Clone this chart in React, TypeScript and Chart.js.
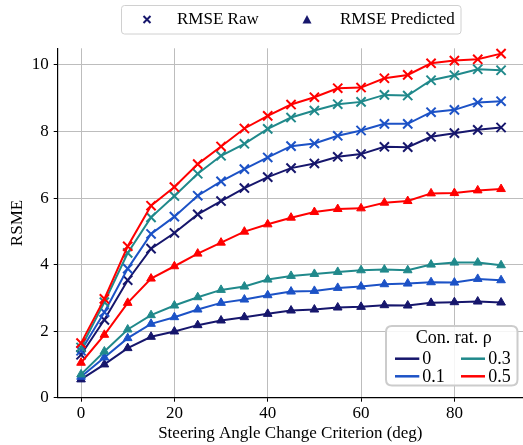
import React, { useEffect, useRef } from 'react';
import { Chart, registerables } from 'chart.js';

Chart.register(...registerables);

const criterion = [0, 5, 10, 15, 20, 25, 30, 35, 40, 45, 50, 55, 60, 65, 70, 75, 80, 85, 90];
const xTicks = [0, 20, 40, 60, 80];
const yTicks = [0, 2, 4, 6, 8, 10];
const rhoLabels = ['0', '0.1', '0.3', '0.5'];
const rhoColors = ['#16166c', '#1c52c6', '#20898b', '#ff0000'];

const rawRho0 = [1.29, 2.34, 3.53, 4.48, 4.95, 5.51, 5.91, 6.30, 6.63, 6.90, 7.04, 7.24, 7.32, 7.54, 7.53, 7.84, 7.95, 8.05, 8.12];
const rawRho1 = [1.41, 2.57, 3.88, 4.92, 5.44, 6.07, 6.50, 6.87, 7.22, 7.56, 7.64, 7.87, 8.03, 8.23, 8.23, 8.58, 8.65, 8.87, 8.91];
const rawRho3 = [1.51, 2.87, 4.35, 5.42, 6.06, 6.73, 7.27, 7.63, 8.08, 8.42, 8.63, 8.82, 8.89, 9.10, 9.08, 9.54, 9.69, 9.87, 9.84];
const rawRho5 = [1.64, 2.97, 4.55, 5.77, 6.33, 7.02, 7.55, 8.09, 8.47, 8.81, 9.03, 9.30, 9.32, 9.60, 9.70, 10.05, 10.13, 10.17, 10.34];

const predRho0 = [0.55, 1.00, 1.49, 1.83, 1.99, 2.18, 2.32, 2.42, 2.52, 2.62, 2.65, 2.71, 2.73, 2.78, 2.77, 2.85, 2.87, 2.89, 2.86];
const predRho1 = [0.63, 1.21, 1.79, 2.22, 2.42, 2.65, 2.85, 2.95, 3.08, 3.19, 3.21, 3.30, 3.34, 3.41, 3.43, 3.47, 3.46, 3.57, 3.53];
const predRho3 = [0.70, 1.39, 2.05, 2.48, 2.77, 3.02, 3.24, 3.34, 3.55, 3.66, 3.72, 3.78, 3.83, 3.85, 3.83, 4.00, 4.06, 4.06, 3.98];
const predRho5 = [1.05, 1.89, 2.85, 3.58, 3.95, 4.33, 4.66, 4.99, 5.21, 5.41, 5.58, 5.67, 5.69, 5.86, 5.91, 6.14, 6.15, 6.23, 6.27];

const rawSeries = [rawRho0, rawRho1, rawRho3, rawRho5];
const predSeries = [predRho0, predRho1, predRho3, predRho5];

const FONT = '"Liberation Serif", "DejaVu Serif", Times, serif';
const W = 523;
const H = 445;

function roundRect(ctx: CanvasRenderingContext2D, x: number, y: number, w: number, h: number, r: number) {
  ctx.beginPath();
  ctx.moveTo(x + r, y);
  ctx.lineTo(x + w - r, y);
  ctx.quadraticCurveTo(x + w, y, x + w, y + r);
  ctx.lineTo(x + w, y + h - r);
  ctx.quadraticCurveTo(x + w, y + h, x + w - r, y + h);
  ctx.lineTo(x + r, y + h);
  ctx.quadraticCurveTo(x, y + h, x, y + h - r);
  ctx.lineTo(x, y + r);
  ctx.quadraticCurveTo(x, y, x + r, y);
  ctx.closePath();
}

const legendPlugin = {
  id: 'customLegends',
  afterDraw(chart: any) {
    const ctx: CanvasRenderingContext2D = chart.ctx;
    ctx.save();
    // Top marker legend
    roundRect(ctx, 121.5, 5.5, 339.5, 28.5, 3);
    ctx.fillStyle = 'rgba(255,255,255,0.9)';
    ctx.fill();
    ctx.strokeStyle = '#d0d0d0';
    ctx.lineWidth = 1;
    ctx.stroke();

    const navy = rhoColors[0];
    const cy = 19.5;
    // cross marker
    ctx.strokeStyle = navy;
    ctx.lineWidth = 2;
    ctx.beginPath();
    ctx.moveTo(143.5, cy - 3.5);
    ctx.lineTo(150.5, cy + 3.5);
    ctx.moveTo(150.5, cy - 3.5);
    ctx.lineTo(143.5, cy + 3.5);
    ctx.stroke();
    // triangle marker
    ctx.fillStyle = navy;
    ctx.beginPath();
    ctx.moveTo(307, cy - 4.5);
    ctx.lineTo(311.5, cy + 4);
    ctx.lineTo(302.5, cy + 4);
    ctx.closePath();
    ctx.fill();

    ctx.fillStyle = '#000';
    ctx.font = `17px ${FONT}`;
    ctx.textBaseline = 'middle';
    ctx.textAlign = 'left';
    ctx.fillText('RMSE Raw', 177, cy);
    ctx.fillText('RMSE Predicted', 340, cy);

    // Bottom colour legend
    roundRect(ctx, 386, 326, 131.5, 59.5, 6);
    ctx.fillStyle = 'rgba(255,255,255,0.85)';
    ctx.fill();
    ctx.strokeStyle = '#cccccc';
    ctx.lineWidth = 2;
    ctx.stroke();

    ctx.font = `18px ${FONT}`;
    ctx.fillStyle = '#000';
    ctx.textAlign = 'center';
    ctx.fillText('Con. rat. ρ', 453.7, 338);

    const rows = [358.7, 376.3];
    const cols = [{ x0: 395, x1: 419.3, tx: 422.3 }, { x0: 461, x1: 485, tx: 488.3 }];
    const order = [0, 2, 1, 3];
    const positions = [
      { c: 0, r: 0 },
      { c: 1, r: 0 },
      { c: 0, r: 1 },
      { c: 1, r: 1 },
    ];
    ctx.textAlign = 'left';
    order.forEach((idx, k) => {
      const p = positions[k];
      const col = cols[p.c];
      const y = rows[p.r];
      ctx.strokeStyle = rhoColors[idx];
      ctx.lineWidth = 2.5;
      ctx.beginPath();
      ctx.moveTo(col.x0, y);
      ctx.lineTo(col.x1, y);
      ctx.stroke();
      ctx.fillStyle = '#000';
      ctx.fillText(rhoLabels[idx], col.tx, y + 1);
    });
    ctx.restore();
  },
};

export default function App() {
  const canvasRef = useRef<HTMLCanvasElement | null>(null);

  useEffect(() => {
    if (!canvasRef.current) return;
    const datasets: any[] = [];
    for (let i = rhoColors.length - 1; i >= 0; i--) {
      datasets.push({
        label: `RMSE Raw ρ=${rhoLabels[i]}`,
        data: criterion.map((x, j) => ({ x, y: rawSeries[i][j] })),
        borderColor: rhoColors[i],
        backgroundColor: rhoColors[i],
        borderWidth: 2,
        pointStyle: 'crossRot',
        pointRadius: 6.5,
        pointBorderWidth: 2,
        pointBorderColor: rhoColors[i],
        tension: 0,
        clip: false,
      });
      datasets.push({
        label: `RMSE Predicted ρ=${rhoLabels[i]}`,
        data: criterion.map((x, j) => ({ x, y: predSeries[i][j] })),
        borderColor: rhoColors[i],
        backgroundColor: rhoColors[i],
        borderWidth: 2,
        pointStyle: 'triangle',
        pointRadius: 5,
        pointBorderWidth: 1,
        pointBackgroundColor: rhoColors[i],
        pointBorderColor: rhoColors[i],
        tension: 0,
        clip: false,
      });
    }

    const chart = new Chart(canvasRef.current, {
      type: 'line',
      data: { datasets },
      plugins: [legendPlugin],
      options: {
        responsive: false,
        animation: false,
        devicePixelRatio: 1,
        layout: { autoPadding: false, padding: { top: 48.3, right: 0, left: 0, bottom: 0 } },
        plugins: {
          legend: { display: false },
          tooltip: { enabled: false },
        },
        scales: {
          x: {
            type: 'linear',
            min: -5,
            max: 94.7,
            afterBuildTicks: (scale: any) => {
              scale.ticks = xTicks.map((v) => ({ value: v }));
            },
            afterFit: (scale: any) => {
              scale.height = 47.3;
            },
            grid: {
              color: '#bdbdbd',
              lineWidth: 1,
              tickColor: '#000',
              tickLength: 4,
              tickWidth: 1,
            },
            border: { display: true, color: '#000', width: 1.2 },
            ticks: {
              color: '#000',
              font: { family: FONT, size: 17 },
              padding: 2,
              maxRotation: 0,
              autoSkip: false,
            },
            title: {
              display: true,
              text: 'Steering Angle Change Criterion (deg)',
              color: '#000',
              font: { family: FONT, size: 17 },
              padding: { top: 0, bottom: 1 },
            },
          },
          y: {
            type: 'linear',
            min: 0,
            max: 10.5,
            afterBuildTicks: (scale: any) => {
              scale.ticks = yTicks.map((v) => ({ value: v }));
            },
            afterFit: (scale: any) => {
              scale.width = 57.7;
            },
            grid: {
              color: '#bdbdbd',
              lineWidth: 1,
              tickColor: '#000',
              tickLength: 4,
              tickWidth: 1,
            },
            border: { display: true, color: '#000', width: 1.2 },
            ticks: {
              color: '#000',
              font: { family: FONT, size: 17 },
              padding: 5,
              autoSkip: false,
            },
            title: {
              display: true,
              text: 'RSME',
              color: '#000',
              font: { family: FONT, size: 17 },
              padding: { top: 7, bottom: 0 },
            },
          },
        },
      },
    });
    return () => chart.destroy();
  }, []);

  return (
    <div style={{ position: 'absolute', left: 0, top: 0, width: W, height: H, background: '#fff' }}>
      <canvas ref={canvasRef} width={W} height={H} style={{ width: W, height: H, display: 'block' }} />
    </div>
  );
}
